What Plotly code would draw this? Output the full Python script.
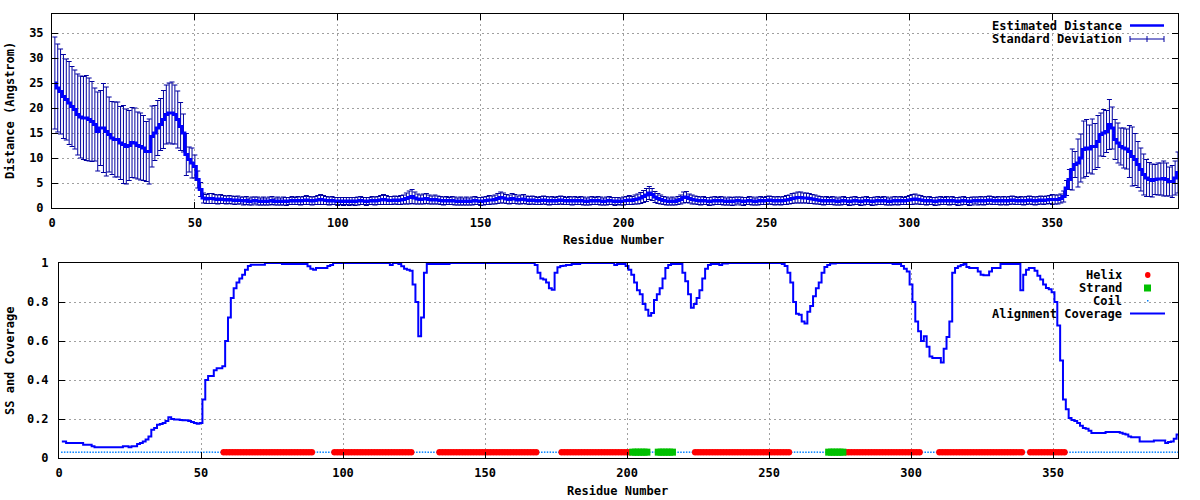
import plotly.graph_objects as go

# ---------------- data ----------------
n_res = 394
residues = list(range(1, n_res + 1))

dist_left = [25.0, 24.0, 23.3, 22.3, 21.7, 21.0, 20.3, 19.7, 18.7, 18.2,
             18.0, 18.0, 17.7, 17.3, 16.7, 15.3, 16.0, 16.0, 15.3, 14.7,
             14.0, 13.7, 13.7, 13.0, 12.7, 12.3, 12.5, 13.1, 13.0, 12.5,
             12.3, 12.0, 11.3, 11.3, 14.3, 15.0, 16.0, 16.7, 17.7, 18.7,
             19.0, 19.0, 18.7, 17.7, 16.3, 15.0, 10.7, 9.7, 9.0, 8.3,
             5.7, 3.7, 2.0]
std_left = [9.2, 8.8, 8.5, 8.4, 8.1, 8.3, 8.0, 7.9, 8.1, 8.2,
            8.3, 8.5, 8.3, 8.0, 7.3, 7.9, 7.5, 8.9, 8.9, 7.5,
            7.3, 7.5, 7.5, 7.3, 7.8, 7.5, 7.0, 7.0, 7.0, 6.7,
            6.7, 6.5, 6.0, 6.5, 6.1, 5.5, 5.5, 5.2, 5.8, 5.9,
            6.0, 6.2, 5.9, 5.7, 4.8, 3.8, 4.2, 2.5, 3.0, 2.3,
            1.7, 1.4, 1.0]

dist_mid = [1.8, 1.9, 1.9, 1.8, 1.7, 1.8, 1.7, 1.6, 1.7, 1.6,
            1.5, 1.6, 1.5, 1.4, 1.5, 1.3, 1.4, 1.5, 1.4, 1.3,
            1.4, 1.3, 1.4, 1.5, 1.3, 1.4, 1.3, 1.4, 1.3, 1.4,
            1.5, 1.4, 1.5, 1.4, 1.5, 1.6, 1.5, 1.4, 1.5, 1.6,
            1.7, 1.6, 1.5, 1.4, 1.5, 1.4, 1.3, 1.4, 1.3, 1.4,
            1.3, 1.4, 1.3, 1.4, 1.5, 1.4, 1.3, 1.4, 1.5, 1.4,
            1.5, 1.6, 1.7, 1.6, 1.5, 1.5, 1.6, 1.5, 1.6, 1.7,
            1.9, 2.1, 2.3, 2.0, 1.8, 1.7, 1.8, 1.9, 1.7, 1.6,
            1.7, 1.6, 1.5, 1.4, 1.5, 1.4, 1.5, 1.4, 1.3, 1.4,
            1.3, 1.4, 1.3, 1.4, 1.5, 1.4, 1.3, 1.4, 1.5, 1.6,
            1.6, 1.7, 1.9, 2.1, 2.0, 1.8, 1.7, 1.9, 1.8, 1.6,
            1.7, 1.8, 1.6, 1.5, 1.6, 1.5, 1.4, 1.5, 1.6, 1.5,
            1.4, 1.5, 1.4, 1.5, 1.6, 1.5, 1.4, 1.5, 1.4, 1.5,
            1.4, 1.5, 1.4, 1.3, 1.4, 1.5, 1.4, 1.5, 1.4, 1.3,
            1.4, 1.5, 1.4, 1.3, 1.4, 1.3, 1.4, 1.5, 1.6, 1.5,
            1.7, 1.8, 2.0, 2.3, 2.6, 3.0, 2.7, 2.2, 1.9, 1.7,
            1.5, 1.4, 1.3, 1.4, 1.3, 1.5, 1.7, 2.1, 2.2, 1.9,
            1.7, 1.6, 1.5, 1.4, 1.5, 1.4, 1.3, 1.4, 1.5, 1.4,
            1.5, 1.4, 1.3, 1.4, 1.3, 1.4, 1.5, 1.4, 1.3, 1.4,
            1.5, 1.4, 1.3, 1.4, 1.5, 1.4, 1.5, 1.6, 1.5, 1.4,
            1.5, 1.4, 1.5, 1.6, 1.7, 1.9, 2.0, 2.1, 2.1, 2.0,
            2.0, 1.9, 1.8, 1.7, 1.6, 1.5, 1.4, 1.5, 1.4, 1.5,
            1.4, 1.3, 1.4, 1.5, 1.4, 1.3, 1.4, 1.5, 1.4, 1.3,
            1.4, 1.5, 1.4, 1.3, 1.4, 1.5, 1.4, 1.5, 1.4, 1.3,
            1.4, 1.5, 1.4, 1.5, 1.4, 1.5, 1.6, 1.7, 1.8, 1.7,
            1.6, 1.5, 1.4, 1.5, 1.4, 1.3, 1.4, 1.5, 1.4, 1.5,
            1.4, 1.5, 1.4, 1.3, 1.4, 1.5, 1.4, 1.3, 1.4, 1.5,
            1.4, 1.5, 1.4, 1.5, 1.6, 1.5, 1.4, 1.5, 1.4, 1.5,
            1.4, 1.5, 1.6, 1.5, 1.4, 1.5, 1.4, 1.5, 1.6, 1.5,
            1.4, 1.5, 1.6, 1.5, 1.6, 1.7]
std_mid = [0.9, 1.0, 1.0, 0.9, 0.9, 0.9, 0.8, 0.8, 0.8, 0.8,
           0.8, 0.8, 0.7, 0.8, 0.8, 0.7, 0.8, 0.7, 0.8, 0.7,
           0.8, 0.7, 0.8, 0.8, 0.7, 0.8, 0.7, 0.8, 0.8, 0.7,
           0.8, 0.7, 0.8, 0.8, 0.8, 0.9, 0.8, 0.8, 0.8, 0.9,
           1.0, 0.9, 0.8, 0.8, 0.8, 0.7, 0.8, 0.7, 0.8, 0.7,
           0.8, 0.7, 0.8, 0.8, 0.8, 0.7, 0.8, 0.7, 0.8, 0.8,
           0.8, 0.9, 1.0, 0.9, 0.8, 0.8, 0.8, 0.8, 0.9, 0.9,
           1.1, 1.3, 1.4, 1.2, 1.0, 0.9, 1.0, 1.0, 0.9, 0.8,
           0.9, 0.8, 0.8, 0.8, 0.8, 0.7, 0.8, 0.8, 0.7, 0.8,
           0.7, 0.8, 0.7, 0.8, 0.8, 0.7, 0.8, 0.8, 0.8, 0.9,
           0.8, 0.9, 1.0, 1.1, 1.0, 0.9, 0.9, 1.0, 0.9, 0.8,
           0.9, 0.9, 0.8, 0.8, 0.8, 0.8, 0.7, 0.8, 0.8, 0.8,
           0.8, 0.8, 0.7, 0.8, 0.8, 0.8, 0.7, 0.8, 0.8, 0.8,
           0.7, 0.8, 0.8, 0.7, 0.8, 0.8, 0.7, 0.8, 0.8, 0.7,
           0.8, 0.8, 0.7, 0.8, 0.7, 0.7, 0.8, 0.8, 0.9, 0.8,
           0.9, 1.0, 1.1, 1.2, 1.3, 1.3, 1.2, 1.1, 1.0, 0.9,
           0.8, 0.8, 0.7, 0.8, 0.7, 0.8, 0.9, 1.1, 1.1, 0.9,
           0.9, 0.8, 0.8, 0.8, 0.8, 0.7, 0.8, 0.8, 0.8, 0.7,
           0.8, 0.8, 0.7, 0.8, 0.8, 0.8, 0.7, 0.8, 0.8, 0.7,
           0.8, 0.8, 0.7, 0.8, 0.8, 0.7, 0.8, 0.8, 0.8, 0.8,
           0.8, 0.8, 0.8, 0.9, 0.9, 1.0, 1.0, 1.1, 1.1, 1.0,
           1.0, 1.0, 0.9, 0.9, 0.8, 0.8, 0.8, 0.8, 0.7, 0.8,
           0.8, 0.7, 0.8, 0.8, 0.7, 0.8, 0.8, 0.8, 0.7, 0.8,
           0.8, 0.8, 0.7, 0.8, 0.8, 0.8, 0.7, 0.8, 0.8, 0.7,
           0.8, 0.8, 0.8, 0.8, 0.7, 0.8, 0.9, 1.0, 1.0, 0.9,
           0.9, 0.8, 0.8, 0.8, 0.7, 0.8, 0.8, 0.8, 0.7, 0.8,
           0.8, 0.8, 0.7, 0.8, 0.8, 0.8, 0.7, 0.8, 0.8, 0.7,
           0.8, 0.8, 0.8, 0.8, 0.8, 0.8, 0.7, 0.8, 0.8, 0.8,
           0.8, 0.8, 0.8, 0.8, 0.7, 0.8, 0.8, 0.8, 0.8, 0.8,
           0.8, 0.8, 0.8, 0.8, 0.8, 0.8]

dist_right = [1.7, 1.7, 1.7, 1.9, 2.3, 4.0, 5.7, 7.7, 8.7, 9.0,
              10.0, 11.7, 12.0, 11.8, 12.3, 12.3, 13.3, 14.7, 15.0, 15.3,
              16.7, 16.0, 13.7, 13.0, 12.3, 12.0, 11.8, 11.3, 10.3, 9.7,
              8.7, 7.7, 6.7, 6.0, 5.7, 5.5, 5.7, 5.8, 5.8, 5.9,
              5.7, 5.3, 5.3, 6.0, 7.1]
std_right = [1.0, 0.9, 0.9, 0.9, 1.1, 1.5, 2.0, 4.1, 2.6, 4.8,
             4.8, 5.7, 5.7, 4.8, 5.5, 4.6, 5.2, 4.3, 4.7, 4.2,
             5.0, 4.2, 4.0, 4.0, 3.7, 4.0, 4.0, 5.2, 5.9, 5.2,
             4.6, 4.3, 4.1, 3.7, 3.4, 3.3, 3.0, 3.2, 3.2, 3.5,
             3.3, 2.9, 3.2, 3.4, 4.1]

distance = dist_left + dist_mid + dist_right
distance_std = std_left + std_mid + std_right

coverage = ([0.085] * 2 + [0.077] * 6 + [0.068] * 3 + [0.06] + [0.055] * 10 +
            [0.06] * 2 + [0.055] + [0.06] * 2 +
            [0.072, 0.077, 0.085, 0.095, 0.11, 0.145, 0.154, 0.17, 0.175, 0.18,
             0.19, 0.209, 0.2, 0.198, 0.197, 0.195, 0.193, 0.193, 0.19, 0.185,
             0.18, 0.176, 0.18] +
            [0.3, 0.4, 0.42, 0.42, 0.45, 0.46, 0.46, 0.47, 0.6, 0.72, 0.82, 0.87,
             0.9, 0.92, 0.94, 0.965, 0.985] +
            [0.991] * 5 + [1.0] * 6 + [0.995] * 9 + [0.983, 0.97, 0.966] +
            [0.974] * 4 + [0.985, 0.99] + [1.0] * 20 + [0.99] + [1.0] * 2 +
            [0.995, 0.983, 0.97, 0.966, 0.96, 0.89, 0.8, 0.624, 0.72, 0.95] +
            [0.995] * 8 + [1.0] * 30 +
            [0.99, 0.95, 0.92, 0.915, 0.9, 0.87, 0.863, 0.95, 0.978, 0.984, 0.986] +
            [0.99] * 2 + [0.995] * 3 + [1.0] * 12 + [0.99] + [0.995] * 3 +
            [0.985, 0.966, 0.94, 0.9, 0.86, 0.84, 0.79, 0.76, 0.73, 0.744, 0.81,
             0.84, 0.87, 0.92, 0.975, 0.99] +
            [0.995] * 4 +
            [0.95, 0.906, 0.84, 0.77, 0.79, 0.82, 0.86, 0.92, 0.97, 0.99] +
            [0.995] * 3 + [0.99] + [0.998] * 2 + [1.0] * 19 +
            [0.995, 0.985, 0.95, 0.9, 0.8, 0.74, 0.735, 0.70, 0.69, 0.75, 0.78,
             0.83, 0.87, 0.9, 0.95, 0.98, 0.99] +
            [0.998] * 2 + [1.0] * 20 + [0.995] * 3 +
            [0.985, 0.97, 0.957, 0.89, 0.8, 0.7, 0.65, 0.6, 0.624, 0.57, 0.52,
             0.513, 0.513, 0.513, 0.49, 0.56, 0.62, 0.7, 0.95, 0.974, 0.983,
             0.99, 0.995] +
            [0.98] + [0.974] * 3 + [0.957, 0.94, 0.937, 0.937, 0.957] +
            [0.974] * 3 + [0.995] * 7 +
            [0.86, 0.94, 0.966, 0.974, 0.974, 0.96, 0.935, 0.915, 0.89, 0.872,
             0.865, 0.85, 0.8, 0.68, 0.5, 0.3, 0.25, 0.205, 0.195, 0.19, 0.18,
             0.165, 0.154, 0.15, 0.14] +
            [0.128] * 5 + [0.133] * 5 + [0.13, 0.125, 0.12, 0.11] + [0.106] * 3 +
            [0.085] * 5 + [0.09] * 4 + [0.077, 0.082, 0.085, 0.099, 0.12])

helix_segments = [(58, 89), (97, 124), (134, 168), (177, 201),
                  (224, 257), (277, 303), (310, 339), (342, 354)]
strand_segments = [(202, 207), (211, 216), (271, 276)]
ss_level = 0.03

x_ticks = [0, 50, 100, 150, 200, 250, 300, 350]
dist_ticks = [0, 5, 10, 15, 20, 25, 30, 35]
cov_ticks = [0, 0.2, 0.4, 0.6, 0.8, 1]
cov_tick_text = ["0", "0.2", "0.4", "0.6", "0.8", "1"]

# ---------------- derived ----------------
ss = ["C"] * n_res
for a, b in helix_segments:
    for r in range(a, b + 1):
        ss[r - 1] = "H"
for a, b in strand_segments:
    for r in range(a, b + 1):
        ss[r - 1] = "E"
helix_x = [r for r, s in zip(residues, ss) if s == "H"]
strand_x = [r for r, s in zip(residues, ss) if s == "E"]
coil_x = [r for r, s in zip(residues, ss) if s == "C"]

FONT = "DejaVu Sans Mono"
W, H = 1200, 500


def px(x):
    return x / W


def py(y):
    return 1 - y / H


fig = go.Figure()

# top: error bars then mean line
fig.add_trace(go.Scatter(
    x=residues, y=distance, mode="markers",
    marker=dict(size=1, color="rgba(0,0,0,0)"),
    error_y=dict(type="data", array=distance_std, visible=True,
                 color="#0000a0", thickness=1, width=2.5),
    xaxis="x", yaxis="y", showlegend=False, hoverinfo="skip"))
fig.add_trace(go.Scatter(
    x=residues, y=distance, mode="lines",
    line=dict(color="#0000ff", width=3, shape="hvh"),
    xaxis="x", yaxis="y", showlegend=False))

# bottom: SS + coverage
fig.add_trace(go.Scatter(
    x=coil_x, y=[ss_level] * len(coil_x), mode="markers",
    marker=dict(symbol="square", size=1.5, color="#0080ff", line=dict(width=0)),
    xaxis="x2", yaxis="y2", showlegend=False))
fig.add_trace(go.Scatter(
    x=helix_x, y=[ss_level] * len(helix_x), mode="markers",
    marker=dict(symbol="circle", size=6.5, color="#ff0000", line=dict(width=0)),
    xaxis="x2", yaxis="y2", showlegend=False))
fig.add_trace(go.Scatter(
    x=strand_x, y=[ss_level] * len(strand_x), mode="markers",
    marker=dict(symbol="square", size=7, color="#00c000", line=dict(width=0)),
    xaxis="x2", yaxis="y2", showlegend=False))
fig.add_trace(go.Scatter(
    x=residues, y=coverage, mode="lines",
    line=dict(color="#0000ff", width=2, shape="hvh"),
    xaxis="x2", yaxis="y2", showlegend=False))

axis_common = dict(
    showline=True, linecolor="black", linewidth=1, mirror="ticks",
    ticks="inside", ticklen=6, tickcolor="black", tickwidth=1,
    showgrid=True, gridcolor="#a0a0a0", gridwidth=1, griddash="2px,3px",
    zeroline=False, automargin=False,
    tickfont=dict(family=FONT, size=12, color="black", weight="bold"),
)

fig.update_layout(
    width=W, height=H, autosize=False,
    margin=dict(l=0, r=0, t=0, b=0, autoexpand=False),
    paper_bgcolor="white", plot_bgcolor="white",
    xaxis=dict(domain=[px(52), px(1178)], range=[0, 394], anchor="y",
               tickvals=x_ticks, ticklabelstandoff=4, **axis_common),
    yaxis=dict(domain=[py(208), py(14)], range=[0, 38.8], anchor="x",
               tickvals=dist_ticks, ticklabelstandoff=5, **axis_common),
    xaxis2=dict(domain=[px(59), px(1178)], range=[0, 394], anchor="y2",
                tickvals=x_ticks, ticklabelstandoff=4, **axis_common),
    yaxis2=dict(domain=[py(458), py(263)], range=[0, 1], anchor="x2",
                tickvals=cov_ticks, ticktext=cov_tick_text,
                ticklabelstandoff=7, **axis_common),
)

bold = dict(family=FONT, size=12, color="black", weight="bold")
ann = []
ann.append(dict(text="Residue Number", x=px(613), y=py(240), xref="paper", yref="paper",
                showarrow=False, font=bold, xanchor="center", yanchor="middle"))
ann.append(dict(text="Residue Number", x=px(617), y=py(491), xref="paper", yref="paper",
                showarrow=False, font=bold, xanchor="center", yanchor="middle"))
ann.append(dict(text="Distance (Angstrom)", x=px(10), y=py(111), xref="paper", yref="paper",
                showarrow=False, font=bold, textangle=-90, xanchor="center", yanchor="middle"))
ann.append(dict(text="SS and Coverage", x=px(10), y=py(361), xref="paper", yref="paper",
                showarrow=False, font=bold, textangle=-90, xanchor="center", yanchor="middle"))

# legends (keys)
for label, yy in [("Estimated Distance", 25.5), ("Standard Deviation", 39)]:
    ann.append(dict(text=label, x=px(1124), y=py(yy), xref="paper", yref="paper",
                    showarrow=False, font=bold, xanchor="right", yanchor="middle"))
for label, yy in [("Helix", 275), ("Strand", 288), ("Coil", 300.5),
                  ("Alignment Coverage", 313.5)]:
    ann.append(dict(text=label, x=px(1124), y=py(yy), xref="paper", yref="paper",
                    showarrow=False, font=bold, xanchor="right", yanchor="middle"))

shapes = []
# opaque key backgrounds (above grid, below data)
shapes.append(dict(type="rect", xref="paper", yref="paper", layer="between",
                   x0=px(995), x1=px(1171), y0=py(15), y1=py(43),
                   fillcolor="white", line=dict(width=0)))
shapes.append(dict(type="rect", xref="paper", yref="paper", layer="between",
                   x0=px(997), x1=px(1171), y0=py(264), y1=py(322),
                   fillcolor="white", line=dict(width=0)))


def seg(x0, y0, x1, y1, color, width):
    return dict(type="line", xref="paper", yref="paper",
                x0=px(x0), y0=py(y0), x1=px(x1), y1=py(y1),
                line=dict(color=color, width=width))


shapes.append(seg(1130, 25.5, 1164, 25.5, "#0000ff", 2.5))
shapes.append(seg(1130, 39, 1164, 39, "#0000a0", 1))
for xx in (1130, 1147, 1164):
    shapes.append(seg(xx, 36, xx, 42, "#0000a0", 1))
shapes.append(seg(1130, 313.5, 1165, 313.5, "#0000ff", 2))
shapes.append(dict(type="circle", xref="paper", yref="paper",
                   x0=px(1145), x1=px(1150.5), y0=py(272), y1=py(278),
                   fillcolor="#ff0000", line=dict(width=0)))
shapes.append(dict(type="rect", xref="paper", yref="paper",
                   x0=px(1144), x1=px(1151), y0=py(284.5), y1=py(291.5),
                   fillcolor="#00c000", line=dict(width=0)))
shapes.append(dict(type="rect", xref="paper", yref="paper",
                   x0=px(1147), x1=px(1148.5), y0=py(300), y1=py(301.5),
                   fillcolor="#0080ff", line=dict(width=0)))

fig.update_layout(annotations=ann, shapes=shapes)
fig.write_html(
    "out.html",
    config={"displayModeBar": False},
    post_script="document.body.style.margin='0';document.body.style.padding='0';"
                "document.body.style.overflow='hidden';window.dispatchEvent(new Event('resize'));",
)
